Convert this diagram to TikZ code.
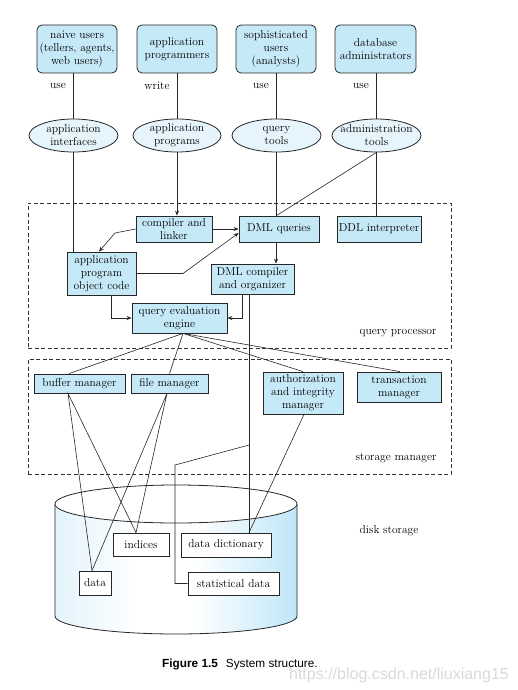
\documentclass[tikz,border=0pt]{standalone}
\usepackage{fontspec}
\newfontfamily\capfont{Liberation Sans}
\usetikzlibrary{arrows.meta,shapes.geometric}
\definecolor{boxblue}{HTML}{C6E9F8}
\definecolor{ellblue}{HTML}{E6F5FC}
\definecolor{cylblue}{HTML}{BFE6F7}
\pgfdeclarehorizontalshading{cylshade}{100bp}{color(0bp)=(cylblue!45); color(25bp)=(cylblue!45); color(42bp)=(white); color(54bp)=(white); color(75bp)=(cylblue); color(100bp)=(cylblue)}
\begin{document}
\begin{tikzpicture}[x=1pt,y=-1pt,font=\fontsize{11.5}{13}\selectfont,
  ubox/.style={draw=black!85, fill=boxblue, rounded corners=5pt, line width=0.8pt, align=center, inner sep=0pt},
  pbox/.style={draw=black!85, fill=boxblue, line width=0.8pt, align=center, inner sep=0pt},
  wbox/.style={draw=black!85, fill=white, line width=0.8pt, align=center, inner sep=0pt},
  tool/.style={ellipse, draw=black!85, fill=ellblue, line width=0.8pt, inner sep=0pt, minimum width=89pt, minimum height=33pt},
  conn/.style={draw=black!85, line width=0.6pt},
  arr/.style={conn, -{Stealth[length=5pt,width=4pt]}},
  region/.style={draw=black!80, line width=0.7pt, dash pattern=on 4pt off 2.5pt, inner sep=0pt}]
\useasboundingbox (0,0) rectangle (517,690);

% disk cylinder
\path[shading=cylshade]
  (55,504) -- (55,616) arc[start angle=180, end angle=360, x radius=121pt, y radius=18pt] -- (297,504) -- cycle;
\draw[line width=0.8pt, black!85] (55,504) -- (55,616) arc[start angle=180, end angle=360, x radius=121pt, y radius=18pt] -- (297,504);
\draw[line width=0.8pt, black!85, fill=white] (176,504) ellipse [x radius=121pt, y radius=19pt];

% users
\node[ubox, minimum width=80pt, minimum height=48pt] (u1) at (77,49) {naive users\\(tellers, agents,\\web users)};
\node[ubox, minimum width=80pt, minimum height=48pt] (u2) at (177,49) {application\\programmers};
\node[ubox, minimum width=80pt, minimum height=48pt] (u3) at (276,49) {sophisticated\\users\\(analysts)};
\node[ubox, minimum width=81pt, minimum height=48pt] (u4) at (375.5,49) {database\\administrators};

\node (l1) at (58,86) {use};
\node (l2) at (157,86) {write};
\node (l3) at (261,86) {use};
\node (l4) at (361,86) {use};

% tools
\node[tool, label={[align=center]center:application\\interfaces}] (e1) at (73.5,135.5) {};
\node[tool, minimum width=88pt, label={[align=center]center:application\\programs}] (e2) at (177,135.5) {};
\node[tool, label={[align=center]center:query\\tools}] (e3) at (276.5,135.5) {};
\node[tool, label={[align=center]center:administration\\tools}] (e4) at (376.5,135.5) {};

% regions
\node[region, minimum width=423pt, minimum height=145pt] (qp) at (239.5,275.5) {};
\node[anchor=east] (qpl) at (440,333) {query processor};
\node[region, minimum width=423pt, minimum height=115pt] (sm) at (239.5,416.5) {};
\node[anchor=east] (sml) at (440,458) {storage manager};
\node (dsl) at (389,531) {disk storage};

% query processor boxes
\node[pbox, minimum width=76pt, minimum height=26pt] (cl) at (174,229) {compiler and\\linker};
\node[pbox, minimum width=80pt, minimum height=26pt] (dq) at (279,229) {DML queries};
\node[pbox, minimum width=84pt, minimum height=26pt] (ddl) at (379,229) {DDL interpreter};
\node[pbox, minimum width=69pt, minimum height=43pt] (apo) at (101.5,273.5) {application\\program\\object code};
\node[pbox, minimum width=83pt, minimum height=30pt] (dmlc) at (252.5,279) {DML compiler\\and organizer};
\node[pbox, minimum width=95pt, minimum height=30pt] (qee) at (179.5,318) {query evaluation\\engine};

% storage manager boxes
\node[pbox, minimum width=91pt, minimum height=19pt] (bm) at (79.5,383.5) {buffer manager};
\node[pbox, minimum width=77pt, minimum height=19pt] (fm) at (169.5,383.5) {file manager};
\node[pbox, minimum width=80pt, minimum height=42pt] (aim) at (303,393) {authorization\\and integrity\\manager};
\node[pbox, minimum width=84pt, minimum height=30pt] (tm) at (399,387) {transaction\\manager};

% disk boxes
\node[wbox, minimum width=56pt, minimum height=23pt] (idx) at (141,544.5) {indices};
\node[wbox, minimum width=90pt, minimum height=24pt] (dd) at (226,545) {data dictionary};
\node[wbox, minimum width=32pt, minimum height=24pt] (data) at (95,583) {data};
\node[wbox, minimum width=91pt, minimum height=23pt] (sd) at (233.5,583.5) {statistical data};

% connectors: users to tools
\draw[conn] (u1.south -| e1.north) -- (e1.north);
\draw[conn] (u2.south) -- (e2.north);
\draw[conn] (u3.south -| e3.north) -- (e3.north);
\draw[conn] (u4.south -| e4.north) -- (e4.north);

% tools to query processor
\coordinate (dqtop) at (e3.south |- dq.north);
\draw[conn] (e1.south) -- (e1.south |- apo.north);
\draw[arr] (e2.south) -- (e2.south |- cl.north);
\draw[conn] (e3.south) -- (dqtop);
\draw[conn] (e4.south) -- (dqtop);
\draw[conn] (e4.south) -- (e4.south |- ddl.north);

% inside query processor
\draw[arr] (cl.east) -- (dq.west);
\draw[arr] (cl.west) -- (115,233) -- ([xshift=-2.5pt]apo.north);
\draw[arr] (apo.east) -- (183,273.5) -- ([yshift=-4pt]dq.west);
\draw[arr] ([xshift=-3pt]dq.south) -- ([xshift=-3pt]dq.south |- dmlc.north);
\draw[arr] ([xshift=9.5pt]apo.south) |- (qee.west);
\draw[arr] ([xshift=-10.5pt]dmlc.south) |- (qee.east);

% query evaluation engine to storage manager
\coordinate (qb) at ([xshift=3.5pt]qee.south);
\draw[conn] (qb) -- ([xshift=-10.5pt]bm.north);
\draw[conn] (qb) -- (fm.north);
\draw[conn] (qb) -- (aim.north);
\draw[conn] (qb) -- ([xshift=1pt]tm.north);

% to disk
\coordinate (ddtop) at ([xshift=23pt]dd.north);
\draw[conn] ([xshift=-3.5pt]dmlc.south) -- (ddtop);
\coordinate (br) at ([xshift=-3.5pt]dmlc.south |- 0,445);
\draw[conn] (br) -- (175,465) |- (sd.west);
\coordinate (bmb) at ([xshift=-11.5pt]bm.south);
\coordinate (fmb) at ([xshift=-2.5pt]fm.south);
\coordinate (datat) at ([xshift=-3pt]data.north);
\coordinate (idxt) at ([xshift=-5pt]idx.north);
\draw[conn] (datat) -- (bmb) -- (idxt);
\draw[conn] (datat) -- (fmb) -- (idxt);
\draw[conn] ([xshift=1pt]aim.south) -- (ddtop);

% caption
\node[text=black!15] (wm) at (399,675) {\capfont\fontsize{16}{18}\selectfont https://blog.csdn.net/liuxiang15};
\node (cap) at (240,664) {\capfont\fontsize{11.8}{14}\selectfont\bfseries Figure 1.5\hspace{8pt}\mdseries System structure.};
\end{tikzpicture}
\end{document}
